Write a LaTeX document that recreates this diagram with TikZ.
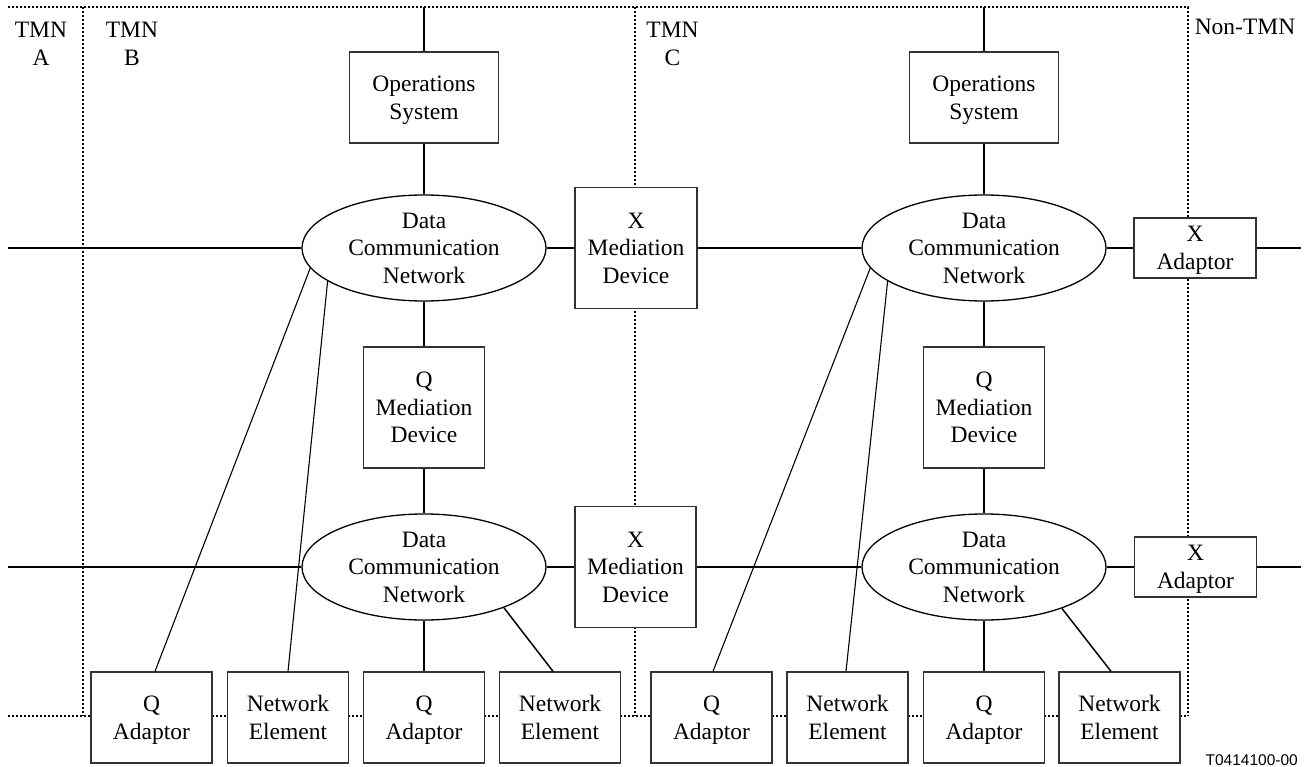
\documentclass[tikz,border=0pt]{standalone}
\usepackage{fontspec}
\setmainfont{Liberation Serif}
\newfontfamily\figsans{Liberation Sans}
\usetikzlibrary{shapes.geometric}
\tikzset{
  txt/.style={font=\fontsize{23.5}{27.5}\selectfont, align=center},
  unit/.style={txt, draw=black!80, line width=1.3pt, fill=white, inner sep=0pt,
               rectangle, minimum width=121pt, text depth=0pt},
  tallbox/.style={unit, minimum height=121pt},
  osbox/.style={unit, minimum width=149pt, minimum height=91pt},
  lowbox/.style={unit, minimum height=91pt},
  adbox/.style={unit, minimum width=122pt, minimum height=60pt},
  dcn/.style={txt, ellipse, draw=black, line width=1.3pt, fill=white, inner sep=0pt,
              minimum width=244pt, minimum height=106pt},
  link/.style={line width=2pt},
  thinlink/.style={line width=1.1pt},
  midlink/.style={line width=1.5pt},
  border/.style={line width=2pt, dash pattern=on 2pt off 2pt},
}
\begin{document}
\begin{tikzpicture}[x=1pt,y=-1pt]
\useasboundingbox (0,0) rectangle (1308,767);

% domain boundaries
\coordinate (tl) at (8,7);
\coordinate (tr) at (1188,7);
\coordinate (bl) at (8,716);
\coordinate (br) at (1188,716);
\coordinate (ab-t) at (83,7);
\coordinate (ab-b) at (83,716);
\coordinate (bc-t) at (635,7);
\coordinate (bc-b) at (635,716);
\draw[border] (tl) -- (tr) -- (br);
\draw[border] (bl) -- (br);
\draw[border] (ab-t) -- (ab-b);
\draw[border] (bc-t) -- (bc-b);

% domain labels
\node[txt] (lblA) at (41,44) {TMN\\A};
\node[txt] (lblB) at (132,44) {TMN\\B};
\node[txt] (lblC) at (672.5,44) {TMN\\C};
\node[txt, anchor=base] (lblN) at (1245,35) {Non-TMN};

% TMN B
\node[osbox] (os1) at (424,97.5) {Operations\\System};
\node[dcn] (dcn1) at (424,248) {Data\\Communication\\Network};
\node[tallbox] (qmd1) at (424,407.5) {Q\\Mediation\\Device};
\node[dcn] (dcn3) at (424,567) {Data\\Communication\\Network};

% B/C mediation
\node[tallbox, minimum width=122pt] (xmd1) at (636,248) {X\\Mediation\\Device};
\node[tallbox] (xmd2) at (635.5,567) {X\\Mediation\\Device};

% TMN C
\node[osbox] (os2) at (984,97.5) {Operations\\System};
\node[dcn] (dcn2) at (984,248) {Data\\Communication\\Network};
\node[tallbox] (qmd2) at (984,407.5) {Q\\Mediation\\Device};
\node[dcn] (dcn4) at (984,567) {Data\\Communication\\Network};

% Non-TMN adaptors
\node[adbox] (xad1) at (1195,248) {X\\Adaptor};
\node[adbox] (xad2) at (1195.5,567) {X\\Adaptor};

% bottom row
\node[lowbox] (qa1) at (151.5,717.5) {Q\\Adaptor};
\node[lowbox] (ne1) at (288,717.5) {Network\\Element};
\node[lowbox] (qa2) at (424,717.5) {Q\\Adaptor};
\node[lowbox] (ne2) at (560,717.5) {Network\\Element};
\node[lowbox] (qa3) at (711.5,717.5) {Q\\Adaptor};
\node[lowbox] (ne3) at (847.5,717.5) {Network\\Element};
\node[lowbox] (qa4) at (984,717.5) {Q\\Adaptor};
\node[lowbox] (ne4) at (1119.5,717.5) {Network\\Element};

% free ends of the external links
\coordinate (top1) at (424,7);
\coordinate (top2) at (984,7);
\coordinate (westA) at (8,248);
\coordinate (westB) at (8,567);
\coordinate (eastA) at (1301,248);
\coordinate (eastB) at (1301,567);

% vertical chains
\draw[link] (top1) -- (os1.north);
\draw[link] (os1.south) -- (dcn1.north);
\draw[link] (dcn1.south) -- (qmd1.north);
\draw[link] (qmd1.south) -- (dcn3.north);
\draw[link] (dcn3.south) -- (qa2.north);
\draw[link] (top2) -- (os2.north);
\draw[link] (os2.south) -- (dcn2.north);
\draw[link] (dcn2.south) -- (qmd2.north);
\draw[link] (qmd2.south) -- (dcn4.north);
\draw[link] (dcn4.south) -- (qa4.north);

% horizontal chains
\draw[link] (westA) -- (dcn1.west);
\draw[link] (dcn1.east) -- (xmd1.west);
\draw[link] (xmd1.east) -- (dcn2.west);
\draw[link] (dcn2.east) -- (xad1.west);
\draw[link] (xad1.east) -- (eastA);
\draw[link] (westB) -- (dcn3.west);
\draw[link] (dcn3.east) -- (xmd2.west);
\draw[link] (xmd2.east) -- (dcn4.west);
\draw[link] (dcn4.east) -- (xad2.west);
\draw[link] (xad2.east) -- (eastB);

% diagonal links
\draw[thinlink] (dcn1.190.6) -- ([xshift=3.5pt]qa1.north);
\draw[thinlink] (dcn1.199.2) -- (ne1.north);
\draw[thinlink] (dcn2.190.6) -- ([xshift=1.5pt]qa3.north);
\draw[thinlink] (dcn2.199.2) -- ([xshift=-1.5pt]ne3.north);
\draw[midlink] (dcn3.333.7) -- ([xshift=-7pt]ne2.north);
\draw[midlink] (dcn4.332.7) -- ([xshift=-8.5pt]ne4.north);

% figure reference
\node[font=\figsans\fontsize{15.5}{18}\selectfont, anchor=east, inner sep=0pt] (ref) at (1298,760) {T0414100-00};
\end{tikzpicture}
\end{document}
